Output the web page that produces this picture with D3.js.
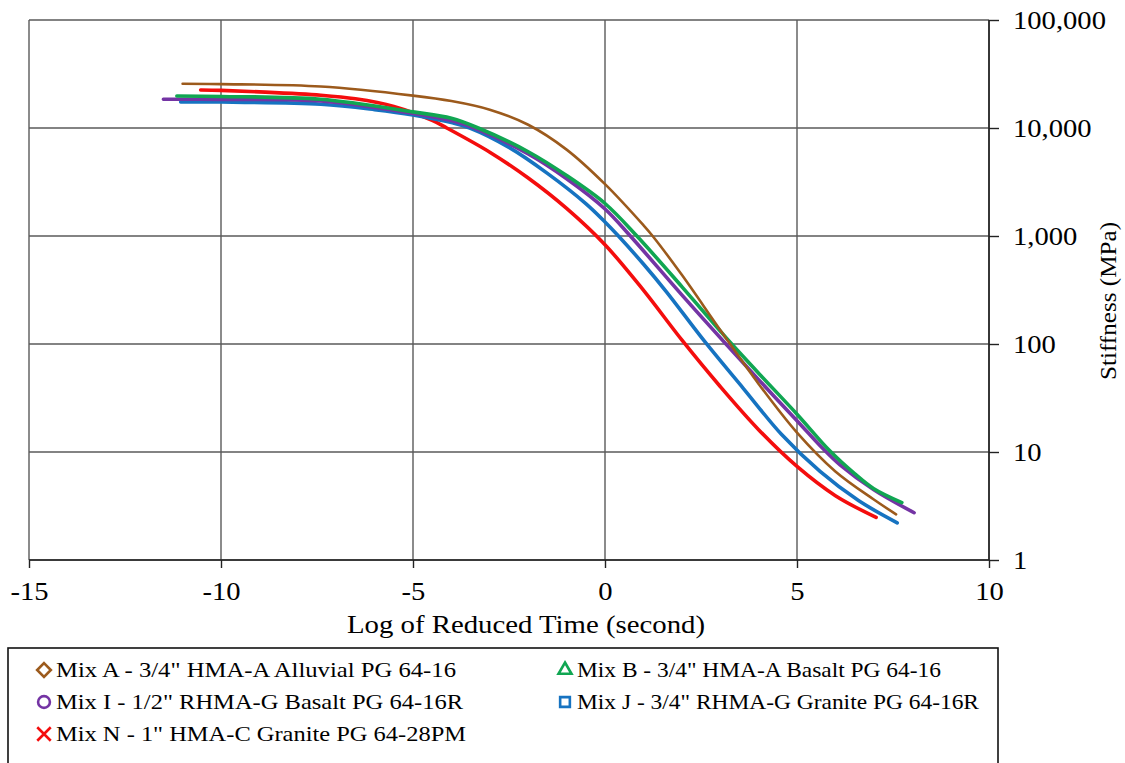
<!DOCTYPE html>
<meta charset="utf-8">
<style>
body { margin: 0; background: #fff; }
svg { display: block; }
.grid line { stroke: #5a5a5a; stroke-width: 1.4; }
.axis path { display: none; }
.axis line { stroke: #222; stroke-width: 1.4; }
.curve { fill: none; stroke-linecap: round; }
</style>
<svg width="1125" height="763"></svg>
<script src="https://cdnjs.cloudflare.com/ajax/libs/d3/7.8.5/d3.min.js"></script>
<script>

// log of reduced time (s) vs stiffness (MPa)
var mixA = [[-11.0, 25700], [-10, 25500], [-7.4, 24200], [-5, 19950], [-4, 17780], [-3, 14790],
            [-2, 10720], [-1, 6310], [0, 3020], [1, 1259], [1.24, 1000], [2, 437], [3, 135],
            [4, 42.7], [5, 15.1], [6, 6.6], [7, 3.63], [7.58, 2.65]];
var mixB = [[-11.15, 19800], [-10, 19600], [-7.4, 18450], [-5, 14100], [-4, 12300], [-3.3, 10000],
            [-2, 6030], [-1, 3630], [0, 2000], [0.83, 1000], [2, 340], [3, 132], [3.3, 100],
            [4, 53.7], [5, 22.4], [5.86, 10.2], [6.5, 6.3], [7, 4.57], [7.73, 3.4]];
var mixI = [[-11.5, 18450], [-10, 18400], [-7.4, 17800], [-5, 13650], [-4, 11750], [-3.4, 10000],
            [-2, 5750], [-1, 3390], [0, 1780], [0.66, 1000], [2, 285], [3.15, 100], [4, 46.8],
            [5, 19.5], [5.68, 10.7], [6.12, 7.6], [7, 4.47], [8.05, 2.74]];
var mixJ = [[-11.05, 17400], [-10, 17400], [-7.4, 16600], [-6, 14800], [-5, 13200], [-4, 11220],
            [-3.52, 10000], [-2.5, 6610], [-1.5, 3800], [-0.5, 1995], [0, 1349], [0.35, 1000],
            [1, 550], [1.6, 304], [2.6, 105], [3.6, 38.9], [4.6, 14.5], [5.6, 6.6], [6.6, 3.55],
            [7.61, 2.21]];
var mixN = [[-10.53, 22500], [-10, 22300], [-9, 21600], [-7.4, 20100], [-6.5, 18620], [-5.5, 15850],
            [-4.5, 11750], [-4.12, 10000], [-3, 5970], [-2, 3440], [-1, 1800], [0, 830], [1, 315],
            [2, 109], [3, 40.4], [4, 16.1], [5, 7.35], [6, 3.94], [7.06, 2.48]];

var names = ["Mix A - 3/4\" HMA-A Alluvial PG 64-16",
             "Mix B - 3/4\" HMA-A Basalt PG 64-16",
             "Mix I - 1/2\" RHMA-G Basalt PG 64-16R",
             "Mix J - 3/4\" RHMA-G Granite PG 64-16R",
             "Mix N - 1\" HMA-C Granite PG 64-28PM"];
var colors = ["#9c5a1c", "#10a652", "#7434a4", "#1673c1", "#f40d0d"];
var xTicks = [-15, -10, -5, 0, 5, 10];
var yTicks = [1, 10, 100, 1000, 10000, 100000];

var series = [mixA, mixB, mixI, mixJ, mixN];
// red at the bottom, brown on top like the original
var drawOrder = [4, 3, 2, 1, 0];
var serif = "'Liberation Serif', 'Times New Roman', serif";

var svg = d3.select("svg");

var x = d3.scaleLinear().domain([-15, 10]).range([29, 989]);
var y = d3.scaleLog().domain([1, 100000]).range([560, 20]);

// grid
var grid = svg.append("g").attr("class", "grid");
grid.selectAll(".gx").data(xTicks).enter().append("line")
    .attr("x1", function(d) { return x(d); }).attr("x2", function(d) { return x(d); })
    .attr("y1", y(100000)).attr("y2", y(1));
grid.selectAll(".gy").data(yTicks).enter().append("line")
    .attr("x1", x(-15)).attr("x2", x(10))
    .attr("y1", function(d) { return y(d); }).attr("y2", function(d) { return y(d); });

// axes
var xAxis = svg.append("g").attr("class", "axis")
    .attr("transform", "translate(0," + y(1) + ")")
    .call(d3.axisBottom(x).tickValues(xTicks).tickSize(8).tickPadding(14).tickFormat(d3.format("d")));
xAxis.selectAll("text").text(function(d) { return d < 0 ? "-" + Math.abs(d) : d; });

var yAxis = svg.append("g").attr("class", "axis")
    .attr("transform", "translate(" + x(10) + ",0)")
    .call(d3.axisRight(y).tickValues(yTicks).tickSize(10).tickPadding(14).tickFormat(d3.format(",d")));

svg.append("line").attr("x1", x(-15)).attr("x2", x(10)).attr("y1", y(1)).attr("y2", y(1))
    .attr("stroke", "#222").attr("stroke-width", 1.6);
svg.append("line").attr("x1", x(10)).attr("x2", x(10)).attr("y1", y(100000)).attr("y2", y(1))
    .attr("stroke", "#222").attr("stroke-width", 1.6);

svg.append("text").attr("x", 347).attr("y", 633)
    .style("font-size", "25px").attr("textLength", 358).attr("lengthAdjust", "spacingAndGlyphs")
    .text("Log of Reduced Time (second)");
svg.append("text").attr("transform", "translate(1116,380) rotate(-90)")
    .style("font-size", "24px").attr("textLength", 158).attr("lengthAdjust", "spacingAndGlyphs")
    .text("Stiffness (MPa)");

// curves
var line = d3.line()
    .x(function(d) { return x(d[0]); })
    .y(function(d) { return y(d[1]); })
    .curve(d3.curveCatmullRom.alpha(0.5));

svg.append("g").selectAll("path").data(drawOrder).enter().append("path")
    .attr("class", "curve")
    .attr("d", function(i) { return line(series[i]); })
    .attr("stroke", function(i) { return colors[i]; })
    .attr("stroke-width", function(i) { return i == 0 ? 2.6 : 3.6; });

// legend
svg.append("rect").attr("x", 8).attr("y", 648).attr("width", 990).attr("height", 130)
    .attr("fill", "#fff").attr("stroke", "#111").attr("stroke-width", 1.6);

var symbols = [d3.symbolDiamond2, d3.symbolTriangle2, d3.symbolCircle, d3.symbolSquare2, d3.symbolX];
var legPos = [[0, 0], [1, 0], [0, 1], [1, 1], [0, 2]];
var legWidth = [400, 364, 407, 402, 410];
var legend = svg.append("g").attr("class", "legend");
var item = legend.selectAll("g").data(names).enter().append("g")
    .attr("transform", function(d, i) {
        return "translate(" + (legPos[i][0] ? 565 : 44) + "," + (670 + legPos[i][1] * 32) + ")";
    });
item.append("path")
    .attr("d", function(d, i) { return d3.symbol().type(symbols[i]).size(i == 2 ? 110 : 120)(); })
    .attr("fill", "none")
    .attr("stroke", function(d, i) { return colors[i]; })
    .attr("stroke-width", 2.6);
item.append("text").attr("x", 12).attr("y", 7).style("font-size", "22px")
    .attr("textLength", function(d, i) { return legWidth[i]; })
    .attr("lengthAdjust", "spacingAndGlyphs")
    .text(function(d) { return d; });

svg.selectAll("text").style("font-family", serif).attr("fill", "#000");

// tick labels: bigger and a little wide, like the original
svg.selectAll(".axis text").style("font-size", "26px")
    .each(function() {
        var w = this.getComputedTextLength();
        d3.select(this).attr("textLength", w * 1.1).attr("lengthAdjust", "spacingAndGlyphs");
    });

</script>
